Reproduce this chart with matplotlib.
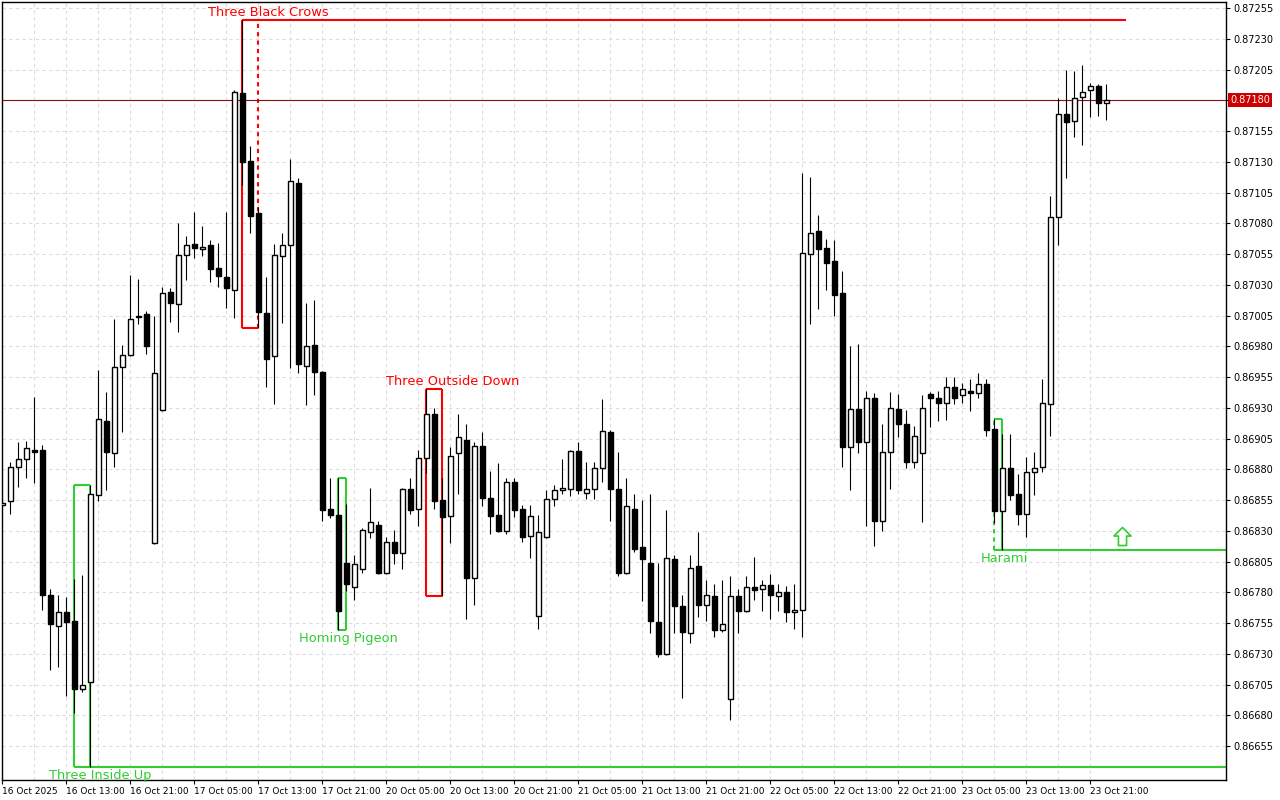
import numpy as np
import matplotlib.pyplot as plt
from matplotlib.path import Path

# H1 candles, 16 Oct 05:00 -> 23 Oct 23:00
opens = [0.86851, 0.86854, 0.86882, 0.86888, 0.86896, 0.86896, 0.86778, 0.86753, 0.86764, 0.86757,
         0.86701, 0.86707, 0.86859, 0.86919, 0.86893, 0.86963, 0.86973, 0.87005, 0.87006, 0.86820,
         0.86928, 0.87024, 0.87014, 0.87054, 0.87063, 0.87059, 0.87062, 0.87044, 0.87036, 0.87026,
         0.87186, 0.87131, 0.87088, 0.87007, 0.86972, 0.87053, 0.87062, 0.87113, 0.86964, 0.86981,
         0.86959, 0.86848, 0.86843, 0.86804, 0.86784, 0.86799, 0.86829, 0.86835, 0.86796, 0.86821,
         0.86812, 0.86864, 0.86848, 0.86889, 0.86925, 0.86855, 0.86842, 0.86893, 0.86904, 0.86792,
         0.86899, 0.86857, 0.86843, 0.86830, 0.86870, 0.86848, 0.86826, 0.86761, 0.86825, 0.86856,
         0.86863, 0.86864, 0.86895, 0.86861, 0.86864, 0.86881, 0.86910, 0.86864, 0.86796, 0.86848,
         0.86817, 0.86804, 0.86756, 0.86730, 0.86807, 0.86769, 0.86747, 0.86801, 0.86770, 0.86777,
         0.86749, 0.86693, 0.86777, 0.86765, 0.86784, 0.86783, 0.86786, 0.86777, 0.86780, 0.86764,
         0.86766, 0.87055, 0.87074, 0.87060, 0.87049, 0.87023, 0.86898, 0.86929, 0.86902, 0.86938,
         0.86838, 0.86894, 0.86929, 0.86917, 0.86886, 0.86893, 0.86941, 0.86938, 0.86934, 0.86947,
         0.86940, 0.86944, 0.86942, 0.86949, 0.86913, 0.86846, 0.86881, 0.86860, 0.86844, 0.86878,
         0.86882, 0.86933, 0.87085, 0.87169, 0.87163, 0.87183, 0.87188, 0.87192, 0.87178]
highs = [0.86855, 0.86886, 0.86902, 0.86903, 0.86939, 0.86900, 0.86783, 0.86778, 0.86776, 0.86791,
         0.86794, 0.86867, 0.86961, 0.86943, 0.87002, 0.86981, 0.87038, 0.87035, 0.87009, 0.87005,
         0.87028, 0.87027, 0.87080, 0.87070, 0.87089, 0.87078, 0.87066, 0.87064, 0.87089, 0.87188,
         0.87245, 0.87143, 0.87093, 0.87036, 0.87063, 0.87072, 0.87132, 0.87117, 0.87015, 0.87018,
         0.86960, 0.86873, 0.86873, 0.86852, 0.86810, 0.86832, 0.86865, 0.86838, 0.86825, 0.86831,
         0.86865, 0.86873, 0.86896, 0.86945, 0.86930, 0.86873, 0.86898, 0.86925, 0.86917, 0.86902,
         0.86910, 0.86879, 0.86885, 0.86873, 0.86873, 0.86851, 0.86851, 0.86843, 0.86863, 0.86867,
         0.86888, 0.86896, 0.86902, 0.86886, 0.86886, 0.86937, 0.86912, 0.86894, 0.86873, 0.86860,
         0.86855, 0.86860, 0.86804, 0.86847, 0.86810, 0.86778, 0.86810, 0.86829, 0.86790, 0.86787,
         0.86790, 0.86793, 0.86783, 0.86793, 0.86809, 0.86790, 0.86795, 0.86787, 0.86785, 0.86787,
         0.87121, 0.87118, 0.87087, 0.87067, 0.87066, 0.87041, 0.86980, 0.86982, 0.86944, 0.86942,
         0.86917, 0.86943, 0.86941, 0.86928, 0.86915, 0.86940, 0.86943, 0.86944, 0.86955, 0.86955,
         0.86950, 0.86953, 0.86958, 0.86953, 0.86921, 0.86909, 0.86909, 0.86876, 0.86890, 0.86894,
         0.86953, 0.87102, 0.87182, 0.87205, 0.87204, 0.87209, 0.87194, 0.87193, 0.87193]
lows = [0.86849, 0.86844, 0.86866, 0.86873, 0.86869, 0.86766, 0.86717, 0.86719, 0.86696, 0.86682,
        0.86699, 0.86638, 0.86854, 0.86863, 0.86882, 0.86910, 0.86972, 0.86998, 0.86974, 0.86819,
        0.86927, 0.87000, 0.86992, 0.87034, 0.87052, 0.87053, 0.87032, 0.87028, 0.87011, 0.87003,
        0.87111, 0.87072, 0.86995, 0.86947, 0.86933, 0.86999, 0.86962, 0.86958, 0.86932, 0.86940,
        0.86838, 0.86840, 0.86749, 0.86781, 0.86774, 0.86796, 0.86824, 0.86795, 0.86795, 0.86803,
        0.86799, 0.86844, 0.86834, 0.86877, 0.86848, 0.86777, 0.86820, 0.86860, 0.86758, 0.86770,
        0.86850, 0.86827, 0.86829, 0.86827, 0.86841, 0.86821, 0.86808, 0.86750, 0.86824, 0.86850,
        0.86860, 0.86858, 0.86860, 0.86856, 0.86856, 0.86870, 0.86838, 0.86793, 0.86795, 0.86813,
        0.86773, 0.86747, 0.86727, 0.86729, 0.86747, 0.86694, 0.86739, 0.86760, 0.86757, 0.86744,
        0.86748, 0.86676, 0.86747, 0.86764, 0.86774, 0.86765, 0.86758, 0.86765, 0.86756, 0.86750,
        0.86744, 0.86998, 0.87010, 0.87026, 0.87005, 0.86882, 0.86863, 0.86893, 0.86834, 0.86818,
        0.86830, 0.86864, 0.86906, 0.86881, 0.86881, 0.86837, 0.86914, 0.86919, 0.86920, 0.86933,
        0.86934, 0.86927, 0.86938, 0.86907, 0.86836, 0.86814, 0.86855, 0.86835, 0.86825, 0.86859,
        0.86878, 0.86907, 0.87062, 0.87117, 0.87150, 0.87144, 0.87166, 0.87167, 0.87164]
closes = [0.86853, 0.86882, 0.86888, 0.86897, 0.86894, 0.86778, 0.86754, 0.86764, 0.86756, 0.86701,
          0.86705, 0.86860, 0.86921, 0.86894, 0.86963, 0.86973, 0.87002, 0.87004, 0.86980, 0.86958,
          0.87023, 0.87015, 0.87054, 0.87062, 0.87060, 0.87061, 0.87043, 0.87037, 0.87027, 0.87187,
          0.87130, 0.87086, 0.87008, 0.86970, 0.87054, 0.87062, 0.87114, 0.86966, 0.86980, 0.86959,
          0.86847, 0.86843, 0.86765, 0.86787, 0.86803, 0.86831, 0.86837, 0.86796, 0.86821, 0.86812,
          0.86864, 0.86847, 0.86889, 0.86925, 0.86854, 0.86841, 0.86891, 0.86906, 0.86792, 0.86899,
          0.86857, 0.86842, 0.86830, 0.86870, 0.86847, 0.86825, 0.86842, 0.86829, 0.86856, 0.86863,
          0.86865, 0.86895, 0.86863, 0.86864, 0.86881, 0.86911, 0.86864, 0.86796, 0.86850, 0.86815,
          0.86807, 0.86757, 0.86730, 0.86808, 0.86769, 0.86748, 0.86800, 0.86770, 0.86778, 0.86749,
          0.86754, 0.86777, 0.86765, 0.86784, 0.86782, 0.86786, 0.86778, 0.86780, 0.86764, 0.86766,
          0.87056, 0.87072, 0.87059, 0.87048, 0.87022, 0.86898, 0.86929, 0.86902, 0.86938, 0.86838,
          0.86894, 0.86930, 0.86917, 0.86886, 0.86907, 0.86930, 0.86938, 0.86934, 0.86947, 0.86938,
          0.86945, 0.86942, 0.86949, 0.86912, 0.86846, 0.86881, 0.86859, 0.86844, 0.86878, 0.86881,
          0.86934, 0.87085, 0.87169, 0.87162, 0.87182, 0.87187, 0.87192, 0.87178, 0.87180]

time_labels = ['16 Oct 2025', '16 Oct 13:00', '16 Oct 21:00', '17 Oct 05:00', '17 Oct 13:00',
               '17 Oct 21:00', '20 Oct 05:00', '20 Oct 13:00', '20 Oct 21:00', '21 Oct 05:00',
               '21 Oct 13:00', '21 Oct 21:00', '22 Oct 05:00', '22 Oct 13:00', '22 Oct 21:00',
               '23 Oct 05:00', '23 Oct 13:00', '23 Oct 21:00']
bars_per_label = 8
bars_per_grid = 4

pattern_names = ['Three Inside Up', 'Three Black Crows', 'Homing Pigeon', 'Three Outside Down', 'Harami']
pattern_first = [9, 30, 42, 53, 124]
pattern_last = [11, 32, 43, 55, 125]
pattern_bullish = [True, False, True, False, True]
pattern_line_to = [None, 140.5, None, None, None]   # None -> to the right edge, only for extended ones
pattern_extended = [True, True, False, False, True]

last_price = 0.87180
price_step = 0.00025

RED = '#ff0000'
GREEN = '#32cd32'

o = np.array(opens)
h = np.array(highs)
l = np.array(lows)
c = np.array(closes)
idx = np.arange(len(o))

fig = plt.figure(figsize=(12.8, 8), dpi=100)
ax = fig.add_axes([1.5 / 1280, 20 / 800, 1224.5 / 1280, 778.5 / 800])
xmin, xmax = -0.1, 152.96
ax.set_xlim(xmin, xmax)
ax.set_ylim(0.866274, 0.872603)

# grid
yt = np.round(np.arange(0.86655, 0.872551, price_step), 5)
ax.set_yticks(yt)
ax.set_yticklabels(['' if abs(v - last_price) < 1e-7 else f'{v:.5f}' for v in yt])
ax.set_xticks(idx[::bars_per_label])
ax.set_xticklabels(time_labels, ha='left')
ax.set_xticks(idx[::bars_per_grid], minor=True)
ax.grid(True, which='both', color='#dcdcdc', linestyle=(0, (3, 3)), linewidth=0.8, zorder=0)
ax.set_axisbelow(True)

ax.yaxis.tick_right()
ax.tick_params(axis='y', direction='out', length=3, width=0.8, pad=2, labelsize=7)
ax.tick_params(axis='x', which='major', direction='out', length=3, width=0.8, pad=2, labelsize=6.5)
ax.tick_params(axis='x', which='minor', length=0)
for s in ax.spines.values():
    s.set_linewidth(1)

# current price
ax.axhline(last_price, color='#8b1010', lw=0.8, zorder=1.8)
ax.annotate(f'{last_price:.5f}', xy=(1, last_price), xycoords=('axes fraction', 'data'),
            xytext=(3, 0), textcoords='offset points', ha='left', va='center',
            fontsize=7, color='white', annotation_clip=False, zorder=10,
            bbox=dict(boxstyle='square,pad=0.2', fc='#cc0000', ec='none'))

# pattern boxes
for name, a, b, bull, ext, ext_to in zip(pattern_names, pattern_first, pattern_last,
                                         pattern_bullish, pattern_extended, pattern_line_to):
    col = GREEN if bull else RED
    top = h[a:b + 1].max()
    bot = l[a:b + 1].min()
    kw = dict(color=col, lw=1.5, zorder=1.5, solid_capstyle='butt')
    ax.plot([a, b], [top, top], **kw)
    ax.plot([a, b], [bot, bot], **kw)
    left_ls = (0, (2, 2)) if name == 'Harami' else '-'
    right_ls = (0, (2, 2)) if name == 'Three Black Crows' else '-'
    ax.plot([a, a], [bot, top], ls=left_ls, **kw)
    ax.plot([b, b], [bot, top], ls=right_ls, **kw)
    if ext:
        end = xmax if ext_to is None else ext_to
        yline = bot if bull else top
        ax.plot([b, end], [yline, yline], **kw)
    dx = 1.25 if b - a == 2 else 0.25
    if bull:
        ax.annotate(name, xy=(b + dx, bot), xytext=(0, -5.8), textcoords='offset points',
                    ha='center', va='center', color=col, fontsize=9.4, zorder=5)
    else:
        ax.annotate(name, xy=(b + dx, top), xytext=(0, 5.8), textcoords='offset points',
                    ha='center', va='center', color=col, fontsize=9.4, zorder=5)

# harami up arrow
arrow = Path([(-0.45, -1), (0.45, -1), (0.45, 0.05), (0.95, 0.05), (0, 1),
              (-0.95, 0.05), (-0.45, 0.05), (-0.45, -1)],
             [Path.MOVETO] + [Path.LINETO] * 6 + [Path.CLOSEPOLY])
hb = pattern_names.index('Harami')
harami_low = l[pattern_first[hb]:pattern_last[hb] + 1].min()
ax.plot([140], [harami_low + 0.00012], marker=arrow, markersize=13,
        mfc='white', mec=GREEN, mew=1.2, zorder=5)

# candles
ax.vlines(idx, l, h, color='black', lw=0.8, zorder=2)
up = c >= o
body_lo = np.minimum(o, c)
body_h = np.abs(c - o)
ax.bar(idx[up], body_h[up], bottom=body_lo[up], width=0.6, color='white',
       edgecolor='black', linewidth=1.0, zorder=3)
ax.bar(idx[~up], body_h[~up], bottom=body_lo[~up], width=0.6, color='black',
       edgecolor='black', linewidth=1.0, zorder=3)

plt.savefig('out.png', dpi=100)
